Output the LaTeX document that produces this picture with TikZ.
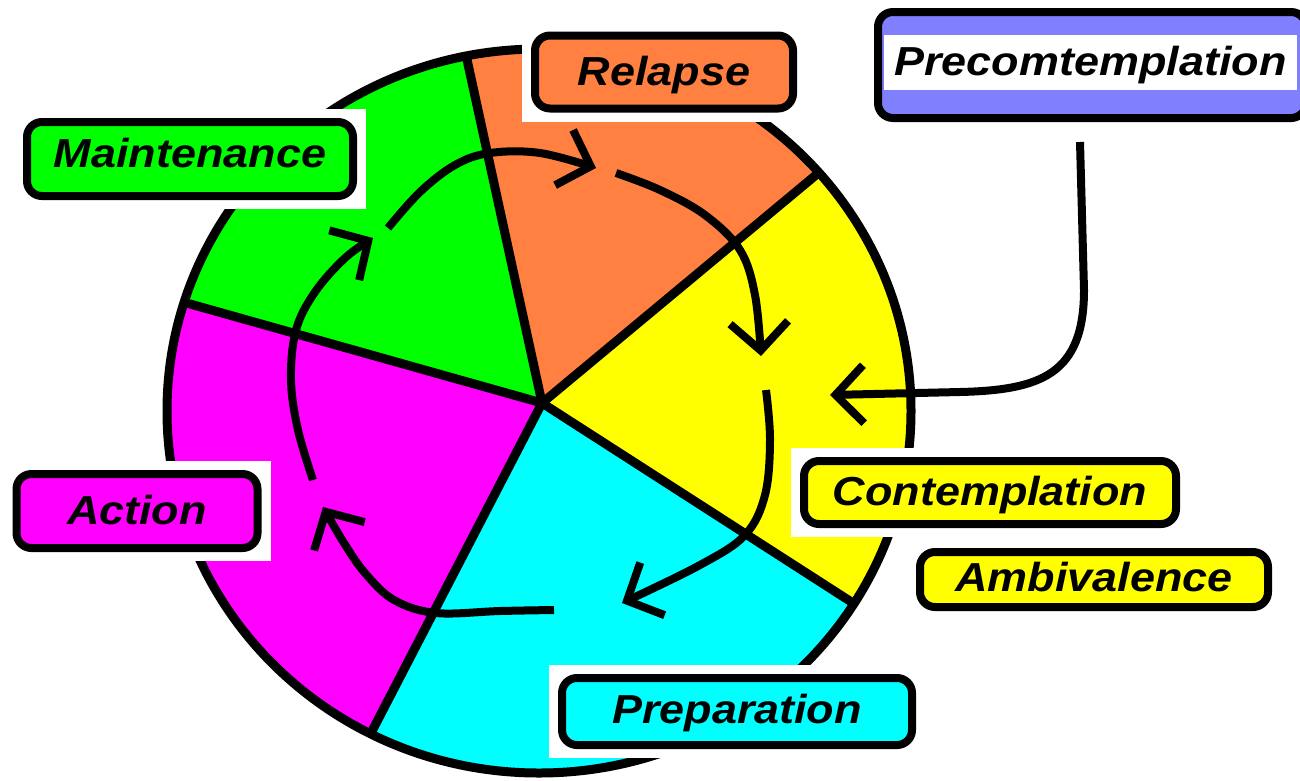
\documentclass[tikz,border=0pt]{standalone}
\usepackage{fontspec}
\newfontfamily\tagfont[FakeStretch=1.11]{Liberation Sans}
\usepackage{tikz}
\usetikzlibrary{calc, arrows.meta}
\definecolor{maintcol}{HTML}{00FF00}
\definecolor{relapsecol}{HTML}{FF8040}
\definecolor{contcol}{HTML}{FFFF00}
\definecolor{prepcol}{HTML}{00FFFF}
\definecolor{actcol}{HTML}{FF00FF}
\definecolor{precol}{HTML}{8080FF}
\tikzset{tag/.style = {draw=black, line width=8pt, rounded corners=15pt, inner sep=0pt,
        font=\tagfont\bfseries\itshape\fontsize{40.5}{48}\selectfont,
        text height=29pt, text depth=3pt}}
\tikzset{blank/.style = {fill=white, inner sep=0pt}}
\tikzset{rim/.style = {line width=9pt, line cap=round}}
\tikzset{flow/.style = {line width=8pt, -{Straight Barb[length=28pt, width=58pt]}}}

\begin{document}
\begin{tikzpicture}[x=1pt, y=-1pt]
        \useasboundingbox[fill=white] (0,0) rectangle (1300,780);

        % wheel
        \coordinate (c)  at (542,403);
        \coordinate (b1) at (466,55);
        \coordinate (b2) at (816,175);
        \coordinate (b3) at (853,603);
        \coordinate (b4) at (370,735);
        \coordinate (b5) at (183,302);

        \begin{scope}
            \clip (539,411) ellipse [x radius=372pt, y radius=362pt];
            \fill[relapsecol] (c) -- ($(c)!2!(b1)$) -- ($(c)!2!(b2)$) -- cycle;
            \fill[contcol]    (c) -- ($(c)!2!(b2)$) -- ($(c)!2!(b3)$) -- cycle;
            \fill[prepcol]    (c) -- ($(c)!2!(b3)$) -- ($(c)!2!(b4)$) -- cycle;
            \fill[actcol]     (c) -- ($(c)!2!(b4)$) -- ($(c)!2!(b5)$) -- cycle;
            \fill[maintcol]   (c) -- ($(c)!2!(b5)$) -- ($(c)!2!(b1)$) -- cycle;
            \foreach \i in {1,...,5}
                \draw[rim] (c) -- ($(c)!1.1!(b\i)$);
        \end{scope}
        \draw[rim] (539,411) ellipse [x radius=372pt, y radius=362pt];

        % cycle
        \coordinate (a1) at (313,480);  \coordinate (t1) at (373,238);
        \coordinate (a2) at (388,228);  \coordinate (t2) at (596,168);
        \coordinate (a3) at (616,173);  \coordinate (t3) at (761,356);
        \coordinate (a4) at (766,390);  \coordinate (t4) at (622,603);
        \coordinate (a5) at (554,610);  \coordinate (t5) at (323,507);

        \draw[flow] plot[smooth, tension=0.6] coordinates {(a1) (298,430) (291,380) (296,330) (315,292) (345,258) (t1)};
        \draw[flow] plot[smooth, tension=0.6] coordinates {(a2) (420,192) (455,165) (490,153) (540,153) (t2)};
        \draw[flow] plot[smooth, tension=0.6] coordinates {(a3) (660,190) (705,215) (740,250) (755,295) (t3)};
        \draw[flow] plot[smooth, tension=0.6] coordinates {(a4) (770,440) (765,495) (745,535) (700,565) (t4)};
        \draw[flow] plot[smooth, tension=0.6] coordinates {(a5) (500,611) (436,613) (394,600) (365,573) (344,543) (t5)};

        % stages
        \foreach \nm/\px/\py/\w/\h/\col/\dep/\txt in {
                maint/190/159/334/82/maintcol/12/Maintenance,
                relapse/664/72/266/81/relapsecol/3/Relapse,
                cont/990/492.5/380/71/contcol/3/Contemplation,
                amb/1094/579.5/356/63/contcol/5/Ambivalence,
                prep/737/711.5/358/75/prepcol/5/Preparation,
                act/137/511/249/82/actcol/3/Action}
        {
            \node[blank, minimum width=\w pt+18pt, minimum height=\h pt+18pt] (\nm-bg) at (\px,\py) {};
            \node[tag, fill=\col, minimum width=\w pt-8pt, minimum height=\h pt-8pt, text depth=\dep pt] (\nm) at (\px,\py) {\txt};
        }

        \node[tag, fill=precol, minimum width=428pt, minimum height=106pt] (pre) at (1092,65) {};
        \node[tag, draw=none, fill=white, rounded corners=0pt, minimum width=413pt, minimum height=55pt] (pretext) at (1090.5,62.5) {Precomtemplation};

        \coordinate (p0) at (1080,142);
        \coordinate (p1) at (830,395);
        \draw[flow] (p0) -- (1084,290) .. controls (1084,375) and (1040,390) .. (960,392) -- (p1);
    \end{tikzpicture}
\end{document}
